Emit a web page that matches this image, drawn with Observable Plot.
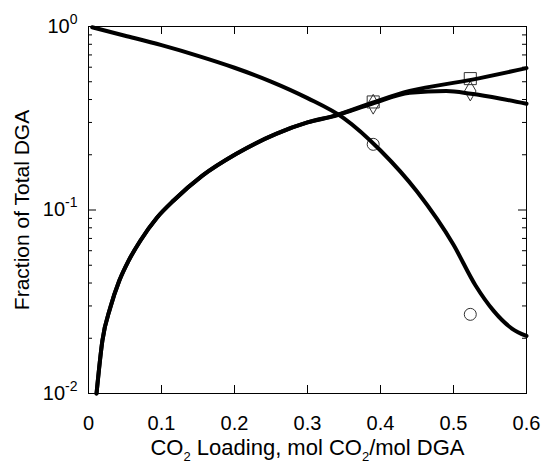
<!DOCTYPE html>
<html><head><meta charset="utf-8">
<script src="https://cdn.jsdelivr.net/npm/d3@7"></script>
<script src="https://cdn.jsdelivr.net/npm/@observablehq/plot@0.6"></script>
<style>html,body{margin:0;padding:0;background:#fff}svg{display:block}</style>
</head><body><div id="chart"></div>
<script>
// Free DGA (decreasing)
const freeX = [0.005, 0.05, 0.10, 0.15, 0.20, 0.25, 0.30, 0.35, 0.40, 0.45, 0.50, 0.53, 0.555, 0.58, 0.60];
const freeY = [0.99, 0.891, 0.791, 0.692, 0.596, 0.501, 0.407, 0.316, 0.211, 0.126, 0.0646, 0.0389, 0.0282, 0.0226, 0.0206];
// Protonated DGA (increasing)
const protX = [0.011, 0.019, 0.030, 0.042, 0.055, 0.071, 0.094, 0.117, 0.156, 0.202, 0.257, 0.30, 0.337, 0.389, 0.44, 0.524, 0.60];
const protY = [0.0100, 0.0194, 0.0295, 0.041, 0.053, 0.068, 0.091, 0.113, 0.154, 0.202, 0.26, 0.30, 0.327, 0.385, 0.445, 0.512, 0.593];
// Carbamate (peaking)
const carbX = [0.011, 0.019, 0.030, 0.042, 0.055, 0.071, 0.094, 0.117, 0.156, 0.202, 0.257, 0.30, 0.337, 0.389, 0.44, 0.49, 0.524, 0.565, 0.60];
const carbY = [0.0100, 0.0194, 0.0295, 0.041, 0.053, 0.068, 0.091, 0.113, 0.154, 0.202, 0.26, 0.30, 0.325, 0.38, 0.435, 0.445, 0.43, 0.404, 0.379];
// Measured points
const circX = [0.39, 0.523];
const circY = [0.228, 0.027];
const sqX = [0.39, 0.523];
const sqY = [0.388, 0.52];
const diaX = [0.39, 0.523];
const diaY = [0.377, 0.445];
// Ticks
const xTicks = [0, 0.1, 0.2, 0.3, 0.4, 0.5, 0.6];
const xTickLabels = ["0", "0.1", "0.2", "0.3", "0.4", "0.5", "0.6"];
const yMajor = [0.01, 0.1, 1];
const yTickLabels = ["10^-2", "10^-1", "10^0"];
const yMinor = [0.02, 0.03, 0.04, 0.05, 0.06, 0.07, 0.08, 0.09, 0.2, 0.3, 0.4, 0.5, 0.6, 0.7, 0.8, 0.9];
const xTitle = "CO_2 Loading, mol CO_2/mol DGA";
const yTitle = "Fraction of Total DGA";

const W = 541, H = 462, ML = 88, MR = 15, MT = 26, MB = 69;
const FW = W - ML - MR, FH = H - MT - MB;
const toRows = (xs, ys) => xs.map((x, i) => ({x, y: ys[i]}));
const tickStyle = {stroke: "black", strokeWidth: 1};

const plot = Plot.plot({
  width: W, height: H,
  marginLeft: ML, marginRight: MR, marginTop: MT, marginBottom: MB,
  style: {fontFamily: "'Liberation Sans', Arial, sans-serif", fontSize: "20px", background: "white", color: "black", overflow: "visible"},
  x: {domain: [0, 0.6]},
  y: {type: "log", domain: [0.01, 1]},
  marks: [
    Plot.dot(toRows(circX, circY), {x: "x", y: "y", symbol: "circle", r: 6, stroke: "#333", strokeWidth: 1, fill: "none"}),
    Plot.dot(toRows(sqX, sqY), {x: "x", y: "y", symbol: "square", r: 6.8, stroke: "#333", strokeWidth: 1, fill: "none"}),
    Plot.dot(toRows(diaX, diaY), {x: "x", y: "y", symbol: "diamond", r: 6, stroke: "#333", strokeWidth: 1, fill: "none"}),
    Plot.line(toRows(freeX, freeY), {x: "x", y: "y", stroke: "black", strokeWidth: 4, curve: "monotone-x"}),
    Plot.line(toRows(protX, protY), {x: "x", y: "y", stroke: "black", strokeWidth: 4, curve: "monotone-x"}),
    Plot.line(toRows(carbX, carbY), {x: "x", y: "y", stroke: "black", strokeWidth: 4, curve: "monotone-x"}),
    // inward tick marks on all four sides
    Plot.tickX(xTicks, {x: d => d, insetTop: FH - 8, ...tickStyle}),
    Plot.tickX(xTicks, {x: d => d, insetBottom: FH - 8, ...tickStyle}),
    Plot.tickY(yMajor, {y: d => d, insetRight: FW - 8, ...tickStyle}),
    Plot.tickY(yMinor, {y: d => d, insetRight: FW - 4, ...tickStyle}),
    Plot.tickY(yMajor, {y: d => d, insetLeft: FW - 8, ...tickStyle}),
    Plot.tickY(yMinor, {y: d => d, insetLeft: FW - 4, ...tickStyle}),
    // tick labels
    Plot.axisX(xTicks, {anchor: "bottom", tickSize: 0, tickPadding: 22, tickFormat: d => xTickLabels[xTicks.indexOf(d)], label: null}),
    Plot.axisY(yMajor, {anchor: "left", tickSize: 0, tickPadding: 11, tickFormat: d => yTickLabels[yMajor.indexOf(d)], label: null}),
    // titles
    Plot.text([xTitle], {frameAnchor: "bottom", text: d => d, dy: 54, fontSize: 22, textAnchor: "middle", lineAnchor: "middle"}),
    Plot.text([yTitle], {frameAnchor: "left", text: d => d, rotate: -90, dx: -66, fontSize: 21, textAnchor: "middle", lineAnchor: "middle"}),
    Plot.frame({stroke: "black", strokeWidth: 1})
  ]
});
document.getElementById("chart").appendChild(plot);

// superscripts / subscripts as tspans
const svgNS = "http://www.w3.org/2000/svg";
plot.querySelectorAll("text").forEach(t => {
  const s = t.textContent;
  if (s.includes("^")) {
    const [base, exp] = s.split("^");
    t.textContent = base;
    const sp = document.createElementNS(svgNS, "tspan");
    sp.setAttribute("font-size", "14");
    sp.setAttribute("dy", "-9");
    sp.textContent = exp;
    t.appendChild(sp);
  } else if (s.includes("_")) {
    const parts = s.split("_");
    t.textContent = parts[0];
    for (let i = 1; i < parts.length; i++) {
      const sub = document.createElementNS(svgNS, "tspan");
      sub.setAttribute("font-size", "13");
      sub.setAttribute("dy", "6");
      sub.textContent = parts[i][0];
      t.appendChild(sub);
      const rest = document.createElementNS(svgNS, "tspan");
      rest.setAttribute("dy", "-6");
      rest.textContent = parts[i].slice(1);
      t.appendChild(rest);
    }
  }
});
</script>
</body></html>
